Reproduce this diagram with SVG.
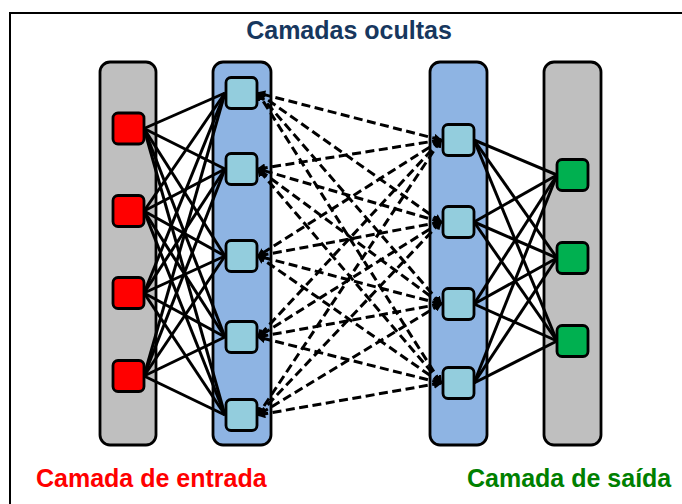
<svg xmlns="http://www.w3.org/2000/svg" width="682" height="504" viewBox="0 0 682 504">
<style>
.frame{fill:none;stroke:#000;stroke-width:2}
.col{stroke:#000;stroke-width:2.8}
.gray{fill:#BFBFBF}
.blue{fill:#8EB4E3}
.nd{stroke:#000;stroke-width:2.8}
.in{fill:#FF0000}
.hid{fill:#93CDDD}
.out{fill:#00B050}
.solid{stroke:#000;stroke-width:3;fill:none}
.dash{stroke:#000;stroke-width:3;fill:none;stroke-dasharray:9,4.5;marker-start:url(#ah);marker-end:url(#ah)}
.lbl{font-family:"Liberation Sans",Arial,sans-serif;font-weight:bold;font-size:25px}
</style>
<defs>
<marker id="ah" viewBox="0 0 10 10" refX="8" refY="5" markerWidth="9" markerHeight="9" markerUnits="userSpaceOnUse" orient="auto-start-reverse">
<path d="M0,0 L10,5 L0,10 z" fill="#000"/>
</marker>
</defs>
<rect width="682" height="504" fill="#fff"/>
<rect class="frame" x="10" y="13" width="720" height="540"/>
<g id="layers">
<rect id="col-input" class="col gray" x="100" y="62" width="56" height="383" rx="10"/>
<rect id="col-hidden1" class="col blue" x="213" y="62" width="58" height="383" rx="10"/>
<rect id="col-hidden2" class="col blue" x="430" y="62" width="57" height="383" rx="10"/>
<rect id="col-output" class="col gray" x="544" y="62" width="57" height="383" rx="10"/>
</g>
<g id="connectors">
<line class="solid" x1="144" y1="128.5" x2="225" y2="93"/>
<line class="solid" x1="144" y1="128.5" x2="225" y2="169"/>
<line class="solid" x1="144" y1="128.5" x2="225" y2="256"/>
<line class="solid" x1="144" y1="128.5" x2="225" y2="337"/>
<line class="solid" x1="144" y1="128.5" x2="225" y2="415"/>
<line class="solid" x1="144" y1="211" x2="225" y2="93"/>
<line class="solid" x1="144" y1="211" x2="225" y2="169"/>
<line class="solid" x1="144" y1="211" x2="225" y2="256"/>
<line class="solid" x1="144" y1="211" x2="225" y2="337"/>
<line class="solid" x1="144" y1="211" x2="225" y2="415"/>
<line class="solid" x1="144" y1="293" x2="225" y2="93"/>
<line class="solid" x1="144" y1="293" x2="225" y2="169"/>
<line class="solid" x1="144" y1="293" x2="225" y2="256"/>
<line class="solid" x1="144" y1="293" x2="225" y2="337"/>
<line class="solid" x1="144" y1="293" x2="225" y2="415"/>
<line class="solid" x1="144" y1="376" x2="225" y2="93"/>
<line class="solid" x1="144" y1="376" x2="225" y2="169"/>
<line class="solid" x1="144" y1="376" x2="225" y2="256"/>
<line class="solid" x1="144" y1="376" x2="225" y2="337"/>
<line class="solid" x1="144" y1="376" x2="225" y2="415"/>
<line class="dash" x1="441" y1="140" x2="258" y2="93"/>
<line class="dash" x1="441" y1="140" x2="258" y2="169"/>
<line class="dash" x1="441" y1="140" x2="258" y2="256"/>
<line class="dash" x1="441" y1="140" x2="258" y2="337"/>
<line class="dash" x1="441" y1="140" x2="258" y2="415"/>
<line class="dash" x1="441" y1="222" x2="258" y2="93"/>
<line class="dash" x1="441" y1="222" x2="258" y2="169"/>
<line class="dash" x1="441" y1="222" x2="258" y2="256"/>
<line class="dash" x1="441" y1="222" x2="258" y2="337"/>
<line class="dash" x1="441" y1="222" x2="258" y2="415"/>
<line class="dash" x1="441" y1="304" x2="258" y2="93"/>
<line class="dash" x1="441" y1="304" x2="258" y2="169"/>
<line class="dash" x1="441" y1="304" x2="258" y2="256"/>
<line class="dash" x1="441" y1="304" x2="258" y2="337"/>
<line class="dash" x1="441" y1="304" x2="258" y2="415"/>
<line class="dash" x1="441" y1="383" x2="258" y2="93"/>
<line class="dash" x1="441" y1="383" x2="258" y2="169"/>
<line class="dash" x1="441" y1="383" x2="258" y2="256"/>
<line class="dash" x1="441" y1="383" x2="258" y2="337"/>
<line class="dash" x1="441" y1="383" x2="258" y2="415"/>
<line class="solid" x1="474" y1="140" x2="557" y2="175"/>
<line class="solid" x1="474" y1="140" x2="557" y2="258"/>
<line class="solid" x1="474" y1="140" x2="557" y2="341"/>
<line class="solid" x1="474" y1="222" x2="557" y2="175"/>
<line class="solid" x1="474" y1="222" x2="557" y2="258"/>
<line class="solid" x1="474" y1="222" x2="557" y2="341"/>
<line class="solid" x1="474" y1="304" x2="557" y2="175"/>
<line class="solid" x1="474" y1="304" x2="557" y2="258"/>
<line class="solid" x1="474" y1="304" x2="557" y2="341"/>
<line class="solid" x1="474" y1="383" x2="557" y2="175"/>
<line class="solid" x1="474" y1="383" x2="557" y2="258"/>
<line class="solid" x1="474" y1="383" x2="557" y2="341"/>
</g>
<g id="in1"><rect class="nd in" x="113" y="113" width="31" height="31" rx="5"/></g>
<g id="in2"><rect class="nd in" x="113" y="195.5" width="31" height="31" rx="5"/></g>
<g id="in3"><rect class="nd in" x="113" y="277.5" width="31" height="31" rx="5"/></g>
<g id="in4"><rect class="nd in" x="113" y="360.5" width="31" height="31" rx="5"/></g>
<g id="h1a"><rect class="nd hid" x="226" y="77.5" width="31" height="31" rx="5"/></g>
<g id="h1b"><rect class="nd hid" x="226" y="153.5" width="31" height="31" rx="5"/></g>
<g id="h1c"><rect class="nd hid" x="226" y="240.5" width="31" height="31" rx="5"/></g>
<g id="h1d"><rect class="nd hid" x="226" y="321.5" width="31" height="31" rx="5"/></g>
<g id="h1e"><rect class="nd hid" x="226" y="399.5" width="31" height="31" rx="5"/></g>
<g id="h2a"><rect class="nd hid" x="443" y="124.5" width="31" height="31" rx="5"/></g>
<g id="h2b"><rect class="nd hid" x="443" y="206.5" width="31" height="31" rx="5"/></g>
<g id="h2c"><rect class="nd hid" x="443" y="288.5" width="31" height="31" rx="5"/></g>
<g id="h2d"><rect class="nd hid" x="443" y="367.5" width="31" height="31" rx="5"/></g>
<g id="o1"><rect class="nd out" x="557" y="159.5" width="31" height="31" rx="5"/></g>
<g id="o2"><rect class="nd out" x="557" y="242.5" width="31" height="31" rx="5"/></g>
<g id="o3"><rect class="nd out" x="557" y="325.5" width="31" height="31" rx="5"/></g>
<g id="labels">
<text class="lbl" x="349" y="39" text-anchor="middle" fill="#17375E">Camadas ocultas</text>
<text class="lbl" x="36" y="487" fill="#FF0000">Camada de entrada</text>
<text class="lbl" x="467" y="487" fill="#008000">Camada de saída</text>
</g>
</svg>
